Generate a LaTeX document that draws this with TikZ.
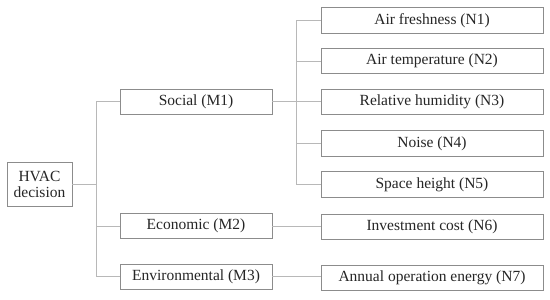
\documentclass[tikz,border=0pt]{standalone}
\usepackage{fontspec}
\setmainfont{Liberation Serif}
\begin{document}
\begin{tikzpicture}[x=1pt,y=-1pt,
  box/.style={draw=boxgray,line width=0.9pt,fill=white,inner sep=0pt,font=\fontsize{15.5}{17}\selectfont,text=black!85},
  conn/.style={draw=linegray,line width=0.8pt}]
\definecolor{boxgray}{HTML}{8C8C8C}
\definecolor{linegray}{HTML}{B8B8B8}
\useasboundingbox[fill=white] (0,0) rectangle (550,300);
\node[box,minimum width=65pt,minimum height=44pt,align=center] (h) at (39.5,184) {HVAC\\[-1pt]decision};
\node[box,minimum width=152pt,minimum height=25pt] (m1) at (196,101.5) {Social (M1)};
\node[box,minimum width=152pt,minimum height=25pt] (m2) at (196,226) {Economic (M2)};
\node[box,minimum width=152pt,minimum height=25pt] (m3) at (196,276.5) {Environmental (M3)};
\node[box,minimum width=222pt,minimum height=25.5pt] (n1) at (432,20.5) {Air freshness (N1)};
\node[box,minimum width=222pt,minimum height=25.5pt] (n2) at (432,61) {Air temperature (N2)};
\node[box,minimum width=222pt,minimum height=25.5pt] (n3) at (432,102) {Relative humidity (N3)};
\node[box,minimum width=222pt,minimum height=25.5pt] (n4) at (432,143.5) {Noise (N4)};
\node[box,minimum width=222pt,minimum height=25.5pt] (n5) at (432,184.5) {Space height (N5)};
\node[box,minimum width=222pt,minimum height=25.5pt] (n6) at (432,227) {Investment cost (N6)};
\node[box,minimum width=222pt,minimum height=25.5pt] (n7) at (432,278) {Annual operation energy (N7)};
\coordinate (t1) at (96,0);
\coordinate (t2) at (296,0);
\draw[conn] (h.east) -- (h.east -| t1);
\draw[conn] (m1.west -| t1) -- (m3.west -| t1);
\draw[conn] (m1.west -| t1) -- (m1.west);
\draw[conn] (m2.west -| t1) -- (m2.west);
\draw[conn] (m3.west -| t1) -- (m3.west);
\draw[conn] (m1.east) -- (n3.west |- m1.east);
\draw[conn] (n1.west -| t2) -- (n5.west -| t2);
\draw[conn] (n1.west -| t2) -- (n1.west);
\draw[conn] (n2.west -| t2) -- (n2.west);
\draw[conn] (n4.west -| t2) -- (n4.west);
\draw[conn] (n5.west -| t2) -- (n5.west);
\draw[conn] (m2.east) -- (n6.west |- m2.east);
\draw[conn] (m3.east) -- (n7.west |- m3.east);
\end{tikzpicture}
\end{document}
